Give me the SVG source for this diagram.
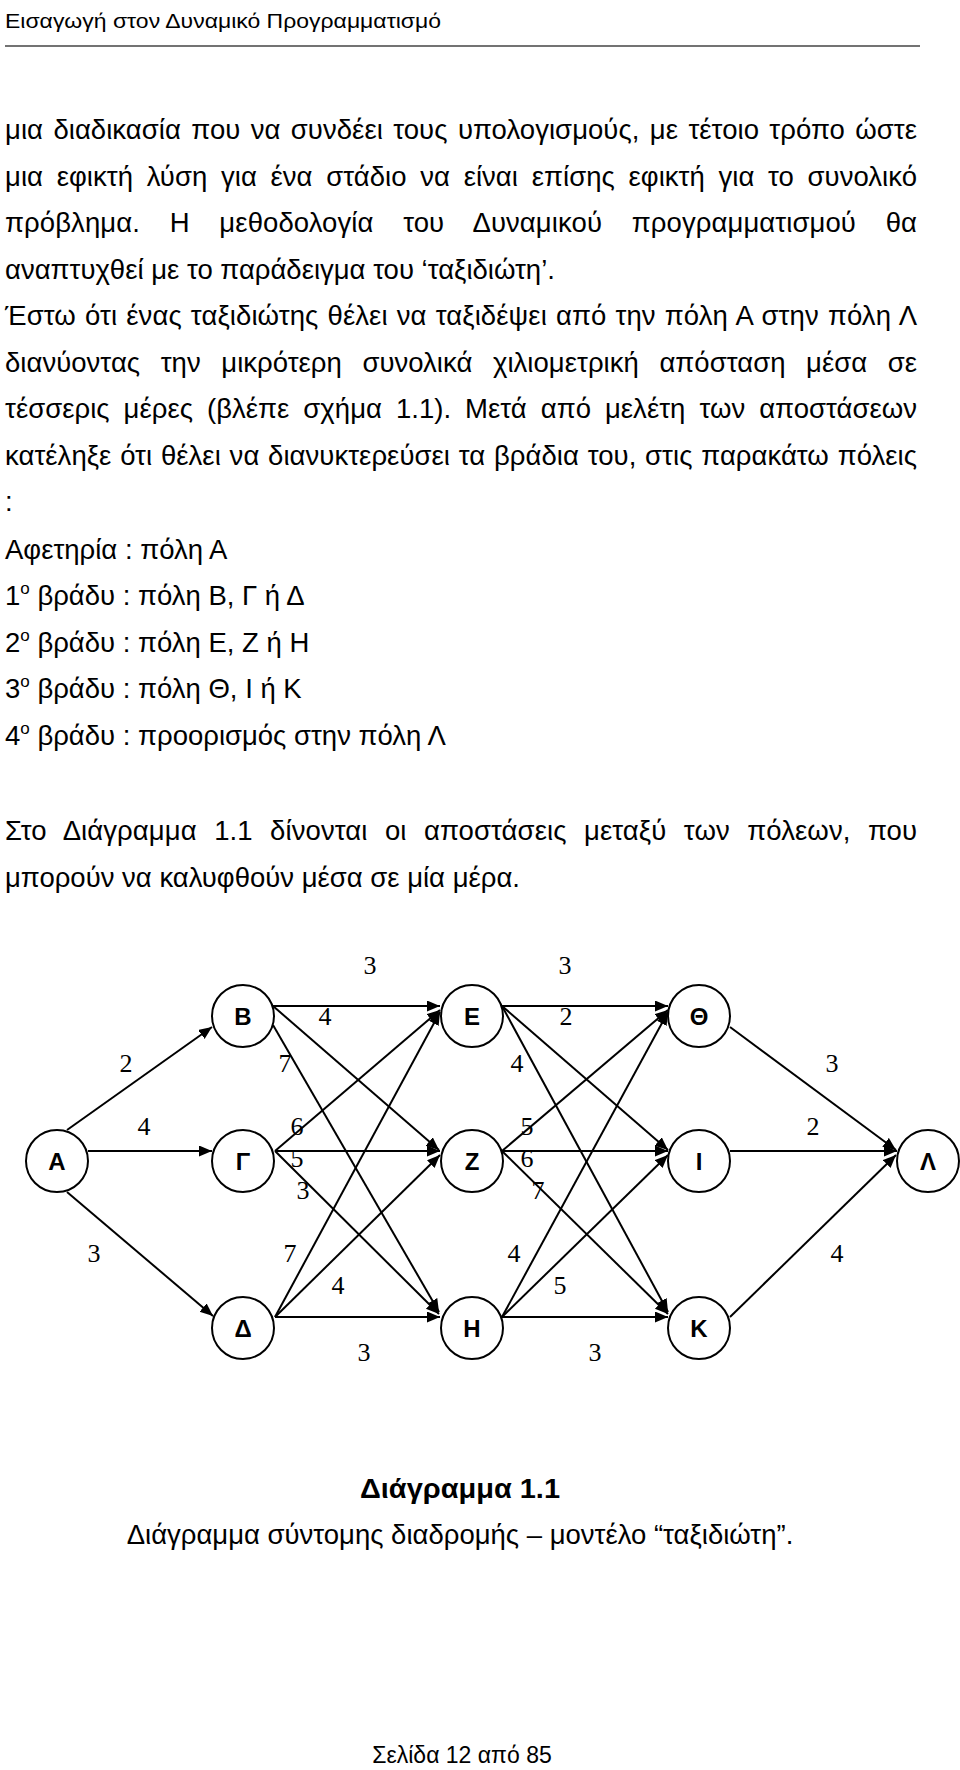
<svg xmlns="http://www.w3.org/2000/svg" width="960" height="1770" viewBox="0 0 960 1770">
<style>
.t{font-family:"Liberation Sans",Arial,sans-serif;font-size:27.5px;fill:#000}
.hd{font-family:"Liberation Sans",Arial,sans-serif;font-size:21px;fill:#000}
.sup{font-size:17px}
.lbl{font-family:"Liberation Serif","Times New Roman",serif;font-size:26px;text-anchor:middle;fill:#000}
.node circle{fill:#fff;stroke:#000;stroke-width:2}
.node text{font-family:"Liberation Sans",Arial,sans-serif;font-weight:bold;font-size:24px;text-anchor:middle;fill:#000}
.edge{stroke:#000;stroke-width:2;fill:none;marker-end:url(#arr)}
</style>
<defs>
<marker id="arr" markerUnits="userSpaceOnUse" markerWidth="14" markerHeight="12" refX="13" refY="5.5" orient="auto">
<path d="M0,0 L13,5.5 L0,11 z" fill="#000"/>
</marker>
</defs>
<rect width="960" height="1770" fill="#fff"/>

<text class="hd" x="5" y="28" textLength="436" lengthAdjust="spacingAndGlyphs">Εισαγωγή στον Δυναμικό Προγραμματισμό</text>
<line x1="5" y1="46" x2="920" y2="46" stroke="#444" stroke-width="1.5"/>

<g id="body">
<text class="t" x="5" y="139" word-spacing="2.7" textLength="912" lengthAdjust="spacing">μια διαδικασία που να συνδέει τους υπολογισμούς, με τέτοιο τρόπο ώστε</text>
<text class="t" x="5" y="186" word-spacing="6" textLength="912" lengthAdjust="spacing">μια εφικτή λύση για ένα στάδιο να είναι επίσης εφικτή για το συνολικό</text>
<text class="t" x="5" y="232" word-spacing="22" textLength="912" lengthAdjust="spacing">πρόβλημα. Η μεθοδολογία του Δυναμικού προγραμματισμού θα</text>
<text class="t" x="5" y="279">αναπτυχθεί με το παράδειγμα του ‘ταξιδιώτη’.</text>
<text class="t" x="5" y="325" word-spacing="1.4" textLength="912" lengthAdjust="spacing">Έστω ότι ένας ταξιδιώτης θέλει να ταξιδέψει από την πόλη Α στην πόλη Λ</text>
<text class="t" x="5" y="372" word-spacing="12.9" textLength="912" lengthAdjust="spacing">διανύοντας την μικρότερη συνολικά χιλιομετρική απόσταση μέσα σε</text>
<text class="t" x="5" y="418" word-spacing="6.3" textLength="912" lengthAdjust="spacing">τέσσερις μέρες (βλέπε σχήμα 1.1). Μετά από μελέτη των αποστάσεων</text>
<text class="t" x="5" y="465" word-spacing="1.1" textLength="912" lengthAdjust="spacing">κατέληξε ότι θέλει να διανυκτερεύσει τα βράδια του, στις παρακάτω πόλεις</text>
<text class="t" x="5" y="511">:</text>
<text class="t" x="5" y="559">Αφετηρία : πόλη Α</text>
<text class="t" x="5" y="605">1<tspan class="sup" dy="-11">ο</tspan><tspan dy="11"> βράδυ : πόλη Β, Γ ή Δ</tspan></text>
<text class="t" x="5" y="652">2<tspan class="sup" dy="-11">ο</tspan><tspan dy="11"> βράδυ : πόλη Ε, Ζ ή Η</tspan></text>
<text class="t" x="5" y="698">3<tspan class="sup" dy="-11">ο</tspan><tspan dy="11"> βράδυ : πόλη Θ, Ι ή Κ</tspan></text>
<text class="t" x="5" y="745">4<tspan class="sup" dy="-11">ο</tspan><tspan dy="11"> βράδυ : προορισμός στην πόλη Λ</tspan></text>
<text class="t" x="5" y="840" word-spacing="9.7" textLength="912" lengthAdjust="spacing">Στο Διάγραμμα 1.1 δίνονται οι αποστάσεις μεταξύ των πόλεων, που</text>
<text class="t" x="5" y="887">μπορούν να καλυφθούν μέσα σε μία μέρα.</text>
</g>

<g id="connectors">
<line class="edge" x1="67" y1="1130" x2="212" y2="1027"/>
<line class="edge" x1="88" y1="1151" x2="212" y2="1151"/>
<line class="edge" x1="67" y1="1192" x2="213" y2="1316"/>

<line class="edge" x1="273" y1="1006" x2="440" y2="1006"/>
<line class="edge" x1="273" y1="1006" x2="439" y2="1150"/>
<line class="edge" x1="273" y1="1025" x2="439" y2="1312"/>
<line class="edge" x1="275" y1="1151" x2="440" y2="1010"/>
<line class="edge" x1="275" y1="1151" x2="440" y2="1151"/>
<line class="edge" x1="275" y1="1151" x2="439" y2="1314"/>
<line class="edge" x1="275" y1="1317" x2="440" y2="1012"/>
<line class="edge" x1="275" y1="1317" x2="440" y2="1155"/>
<line class="edge" x1="275" y1="1317" x2="440" y2="1317"/>

<line class="edge" x1="502" y1="1006" x2="668" y2="1006"/>
<line class="edge" x1="502" y1="1006" x2="668" y2="1150"/>
<line class="edge" x1="502" y1="1006" x2="668" y2="1312"/>
<line class="edge" x1="502" y1="1151" x2="668" y2="1010"/>
<line class="edge" x1="502" y1="1151" x2="668" y2="1151"/>
<line class="edge" x1="502" y1="1151" x2="668" y2="1314"/>
<line class="edge" x1="502" y1="1317" x2="668" y2="1012"/>
<line class="edge" x1="502" y1="1317" x2="668" y2="1155"/>
<line class="edge" x1="502" y1="1317" x2="668" y2="1317"/>

<line class="edge" x1="730" y1="1027" x2="896" y2="1150"/>
<line class="edge" x1="730" y1="1151" x2="897" y2="1151"/>
<line class="edge" x1="730" y1="1317" x2="896" y2="1155"/>
</g>

<g id="edge-labels">
<text class="lbl" x="370" y="974">3</text>
<text class="lbl" x="565" y="974">3</text>
<text class="lbl" x="325" y="1025">4</text>
<text class="lbl" x="566" y="1025">2</text>
<text class="lbl" x="126" y="1072">2</text>
<text class="lbl" x="285" y="1072">7</text>
<text class="lbl" x="517" y="1072">4</text>
<text class="lbl" x="832" y="1072">3</text>
<text class="lbl" x="144" y="1135">4</text>
<text class="lbl" x="297" y="1135">6</text>
<text class="lbl" x="297" y="1167">5</text>
<text class="lbl" x="303" y="1199">3</text>
<text class="lbl" x="527" y="1135">5</text>
<text class="lbl" x="527" y="1167">6</text>
<text class="lbl" x="538" y="1199">7</text>
<text class="lbl" x="813" y="1135">2</text>
<text class="lbl" x="94" y="1262">3</text>
<text class="lbl" x="290" y="1262">7</text>
<text class="lbl" x="514" y="1262">4</text>
<text class="lbl" x="837" y="1262">4</text>
<text class="lbl" x="338" y="1294">4</text>
<text class="lbl" x="560" y="1294">5</text>
<text class="lbl" x="364" y="1361">3</text>
<text class="lbl" x="595" y="1361">3</text>
</g>

<g id="node-A" class="node"><circle cx="57" cy="1161" r="31"/><text x="57" y="1170">Α</text></g>
<g id="node-B" class="node"><circle cx="243" cy="1016" r="31"/><text x="243" y="1025">Β</text></g>
<g id="node-G" class="node"><circle cx="243" cy="1161" r="31"/><text x="243" y="1170">Γ</text></g>
<g id="node-D" class="node"><circle cx="243" cy="1328" r="31"/><text x="243" y="1337">Δ</text></g>
<g id="node-E" class="node"><circle cx="472" cy="1016" r="31"/><text x="472" y="1025">Ε</text></g>
<g id="node-Z" class="node"><circle cx="472" cy="1161" r="31"/><text x="472" y="1170">Ζ</text></g>
<g id="node-H" class="node"><circle cx="472" cy="1328" r="31"/><text x="472" y="1337">Η</text></g>
<g id="node-Th" class="node"><circle cx="699" cy="1016" r="31"/><text x="699" y="1025">Θ</text></g>
<g id="node-I" class="node"><circle cx="699" cy="1161" r="31"/><text x="699" y="1170">Ι</text></g>
<g id="node-K" class="node"><circle cx="699" cy="1328" r="31"/><text x="699" y="1337">Κ</text></g>
<g id="node-L" class="node"><circle cx="928" cy="1161" r="31"/><text x="928" y="1170">Λ</text></g>

<g id="caption">
<text x="460" y="1498" text-anchor="middle" font-family="'Liberation Sans',Arial,sans-serif" font-weight="bold" font-size="28" textLength="200" lengthAdjust="spacingAndGlyphs">Διάγραμμα 1.1</text>
<text class="t" x="460" y="1544" text-anchor="middle">Διάγραμμα σύντομης διαδρομής – μοντέλο “ταξιδιώτη”.</text>
</g>
<text x="462" y="1763" text-anchor="middle" font-family="'Liberation Sans',Arial,sans-serif" font-size="23">Σελίδα 12 από 85</text>
</svg>
